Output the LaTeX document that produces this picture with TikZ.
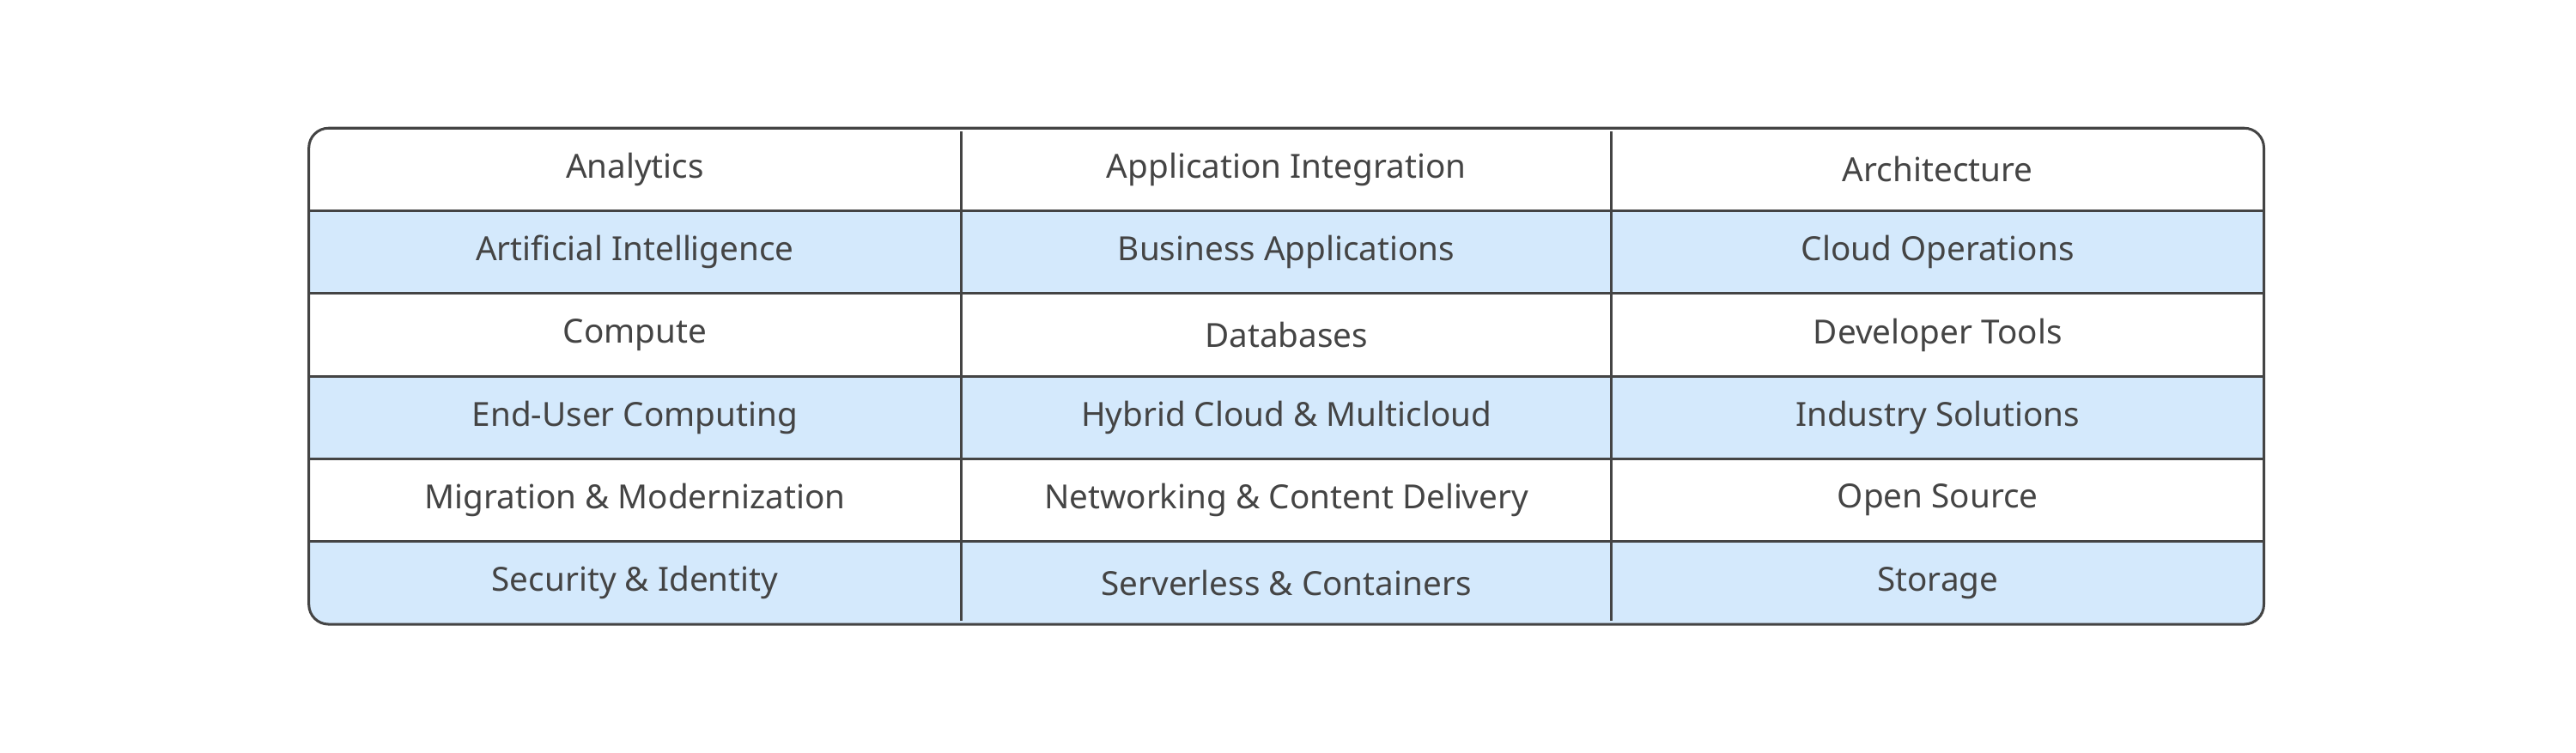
\documentclass[tikz,border=0pt]{standalone}
\usepackage{fontspec}
\setmainfont{Noto Sans}
\usetikzlibrary{positioning}
\definecolor{ink}{HTML}{444444}
\definecolor{rowblue}{HTML}{D4E9FC}
\tikzset{cell/.style={minimum width=7.92cm, minimum height=1.006cm, inner sep=0pt, text=ink, font=\fontsize{11.5}{13}\selectfont}}
\begin{document}
\begin{tikzpicture}[x=0.02cm,y=0.02cm]
\useasboundingbox (0,0) rectangle (1568,458);
% striped rows
\begin{scope}
\clip[rounded corners=0.24cm] (188,78) rectangle (1378,380);
\foreach \r in {1,3,5} {
  \fill[rowblue] (188,{458-78-\r*50.33}) rectangle (1378,{458-78-(\r+1)*50.33});
}
\end{scope}
% grid lines
\foreach \r in {1,...,5} {
  \draw[ink, line width=0.9pt] (188,{458-78-\r*50.33}) -- (1378,{458-78-\r*50.33});
}
\draw[ink, line width=0.9pt] (585,80) -- (585,378);
\draw[ink, line width=0.9pt] (981,80) -- (981,378);
\draw[ink, line width=0.9pt, rounded corners=0.24cm] (188,78) rectangle (1378,380);
% cells
\foreach \a/\b/\c [count=\r from 0] in {
  Analytics/Application Integration/Architecture,
  Artificial Intelligence/Business Applications/Cloud Operations,
  Compute/Databases/Developer Tools,
  End-User Computing/Hybrid Cloud \& Multicloud/Industry Solutions,
  Migration \& Modernization/Networking \& Content Delivery/Open Source,
  Security \& Identity/Serverless \& Containers/Storage} {
  \node[cell] (a\r) at (386.5,{458-78-(\r+0.5)*50.33}) {\a};
  \node[cell] (b\r) at (783,{458-78-(\r+0.5)*50.33}) {\b};
  \node[cell] (c\r) at (1179.5,{458-78-(\r+0.5)*50.33}) {\c};
}
\end{tikzpicture}
\end{document}
